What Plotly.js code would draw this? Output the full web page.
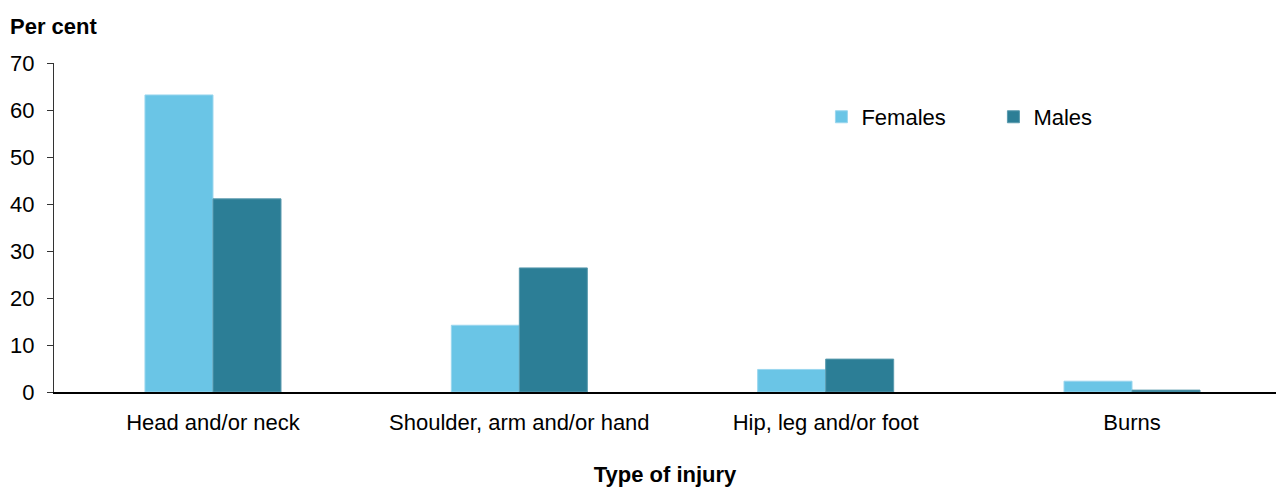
<!DOCTYPE html>
<html><head><meta charset="utf-8">
<script src="https://cdn.plot.ly/plotly-3.0.1.min.js"></script>
<style>html,body{margin:0;padding:0;background:#fff}#chart{width:1276px;height:487px}</style>
</head><body><div id="chart"></div>
<script>
const categories = ["Head and/or neck", "Shoulder, arm and/or hand", "Hip, leg and/or foot", "Burns"];
const females = [63.2, 14.2, 4.8, 2.3];
const males = [41.1, 26.4, 7.0, 0.4];
const yTicks = [0, 10, 20, 30, 40, 50, 60, 70];

const font = "Liberation Sans, Arial, sans-serif";
const data = [
  {type: "bar", name: "Females", x: categories, y: females, marker: {color: "#6AC5E6", line: {color: "#9AD6EE", width: 1}}, hoverinfo: "x+y+name"},
  {type: "bar", name: "Males", x: categories, y: males, marker: {color: "#2C7E96", line: {color: "#5A9AAE", width: 1}}, hoverinfo: "x+y+name"}
];
const layout = {
  width: 1276, height: 487,
  margin: {l: 54, r: 0, t: 63, b: 95, pad: 0},
  paper_bgcolor: "#fff", plot_bgcolor: "#fff",
  font: {family: font, size: 21, color: "#000"},
  barmode: "group", bargap: 0.556, bargroupgap: 0,
  showlegend: true,
  legend: {orientation: "h", x: 0.628, y: 0.836, xanchor: "left", yanchor: "middle", font: {size: 22}, itemwidth: 30, traceorder: "normal", bgcolor: "rgba(0,0,0,0)", entrywidth: 127},
  xaxis: {
    type: "category", range: [-0.519, 3.47],
    showline: true, linecolor: "#000", linewidth: 2,
    ticks: "", showgrid: false, zeroline: false,
    tickfont: {size: 22}, ticklabelstandoff: 10,
    title: {text: "<b>Type of injury</b>", font: {size: 22}, standoff: 33}
  },
  yaxis: {
    range: [0, 70], tickvals: yTicks, ticktext: yTicks.map(String),
    showline: true, linecolor: "#333", linewidth: 1,
    ticks: "outside", ticklen: 6, tickcolor: "#333",
    showgrid: false, zeroline: false, tickfont: {size: 22}, ticklabelstandoff: 8
  },
  annotations: [
    {text: "<b>Per cent</b>", xref: "paper", yref: "paper", x: -0.038, y: 1.11, xanchor: "left", yanchor: "middle", showarrow: false, font: {size: 22}}
  ]
};
Plotly.newPlot("chart", data, layout, {displayModeBar: false, staticPlot: true});
</script></body></html>
